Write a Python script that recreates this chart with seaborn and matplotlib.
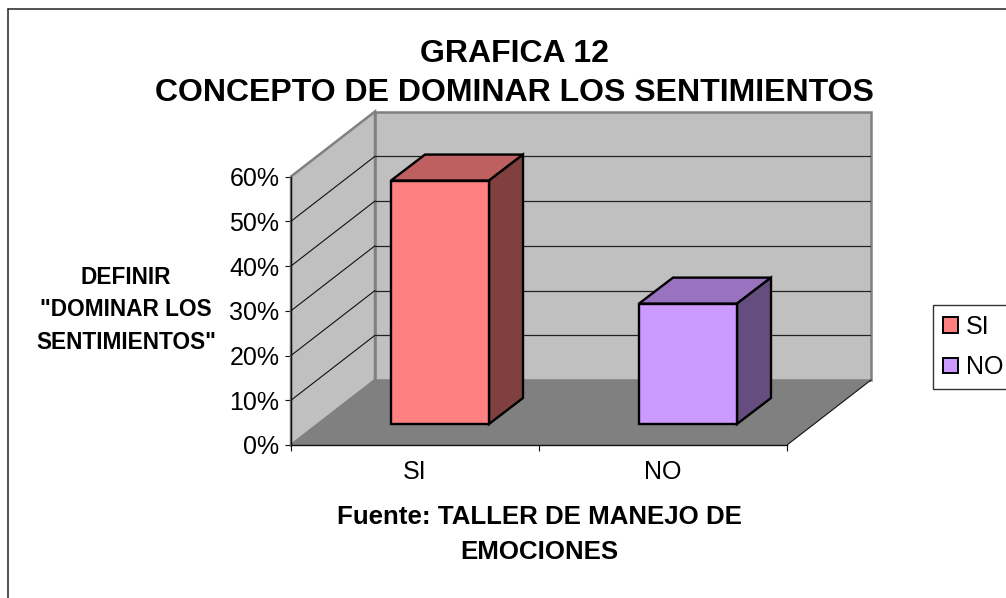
# plot.py - grafica 12, barras con falso 3D estilo Excel
import matplotlib
matplotlib.use("Agg")
import matplotlib.pyplot as plt
from matplotlib.lines import Line2D
from matplotlib.patches import Patch, Polygon, Rectangle
import pandas as pd
import seaborn as sns

categorias = ["SI", "NO"]
valores = [54.4, 26.9]
colores_frente = ["#FF8080", "#CC99FF"]
colores_tapa = ["#BF6060", "#9973BF"]
colores_lado = ["#804040", "#664D80"]
y_ticks = [0, 10, 20, 30, 40, 50, 60]

titulo = "GRAFICA 12\nCONCEPTO DE DOMINAR LOS SENTIMIENTOS"
etiqueta_y = 'DEFINIR\n"DOMINAR LOS\nSENTIMIENTOS"'
etiqueta_x = "Fuente: TALLER DE MANEJO DE\nEMOCIONES"

W, H = 1006, 598

# profundidad del "3D" en unidades de los ejes
PX_X = 248.0
PX_Y = 268.5 / 60
pared_dx, pared_dy = 84 / PX_X, 65 / PX_Y
barra_dx, barra_dy = 34 / PX_X, 26 / PX_Y
desplaza_x, eleva_y = 25 / PX_X, 21 / PX_Y

sns.set_style("ticks")
plt.rcParams["font.family"] = ["Liberation Sans", "DejaVu Sans"]
plt.rcParams["text.color"] = "black"
plt.rcParams["axes.labelcolor"] = "black"
plt.rcParams["xtick.labelcolor"] = "black"
plt.rcParams["ytick.labelcolor"] = "black"

fig = plt.figure(figsize=(W / 100, H / 100), dpi=100, facecolor="white")
ax = fig.add_axes([291 / W, (H - 445) / H, 496 / W, 268.5 / H])
ax.patch.set_visible(False)

df = pd.DataFrame({"respuesta": categorias, "valor": valores})
sns.barplot(data=df, x="respuesta", y="valor", hue="respuesta",
            palette=colores_frente, saturation=1, width=98 / PX_X, edgecolor="black",
            linewidth=1.7, legend=False, zorder=6, ax=ax)

x0, x1 = -0.5, 1.5
ax.set_xlim(x0, x1)
ax.set_ylim(0, 60)

# paredes y piso
gris_borde = "#808080"
ax.add_patch(Rectangle((x0 + pared_dx, pared_dy), x1 - x0, 60, fc="#C0C0C0", ec=gris_borde,
                       lw=1.8, clip_on=False, zorder=1))
ax.add_patch(Polygon([(x0, 0), (x0 + pared_dx, pared_dy), (x0 + pared_dx, 60 + pared_dy), (x0, 60)],
                     fc="#C0C0C0", ec=gris_borde, lw=1.8, clip_on=False, zorder=1))
ax.add_patch(Polygon([(x0, 0), (x1, 0), (x1 + pared_dx, pared_dy), (x0 + pared_dx, pared_dy)],
                     fc="#808080", ec="none", clip_on=False, zorder=2))
ax.plot([x1, x1 + pared_dx], [0, pared_dy], color="#111111", lw=0.8, clip_on=False, zorder=2)

# lineas de division en pared del fondo y lateral
for y in y_ticks[1:-1]:
    ax.plot([x0 + pared_dx, x1 + pared_dx - 0.006], [y + pared_dy, y + pared_dy],
            color="#222222", lw=0.9, clip_on=False, zorder=3)
    ax.plot([x0, x0 + pared_dx], [y, y + pared_dy], color="#111111", lw=0.8, clip_on=False, zorder=3)

# caras de cada barra a partir del rectangulo que dibuja seaborn
barras = [p for c in ax.containers for p in c]
for barra, tapa, lado in zip(barras, colores_tapa, colores_lado):
    barra.set_x(barra.get_x() + desplaza_x)
    barra.set_y(eleva_y)
    barra.set_clip_on(False)
    barra.set_joinstyle("miter")
    izq, der = barra.get_x(), barra.get_x() + barra.get_width()
    abajo, arriba = eleva_y, eleva_y + barra.get_height()
    ax.add_patch(Polygon([(izq, arriba), (der, arriba), (der + barra_dx, arriba + barra_dy),
                          (izq + barra_dx, arriba + barra_dy)],
                         fc=tapa, ec="black", lw=1.7, joinstyle="miter", clip_on=False, zorder=5))
    ax.add_patch(Polygon([(der, abajo), (der + barra_dx, abajo + barra_dy),
                          (der + barra_dx, arriba + barra_dy), (der, arriba)],
                         fc=lado, ec="black", lw=1.7, joinstyle="miter", clip_on=False, zorder=5))

# ejes
for lado_eje in ["top", "right"]:
    ax.spines[lado_eje].set_visible(False)
for lado_eje in ["left", "bottom"]:
    ax.spines[lado_eje].set_color("#111111")
    ax.spines[lado_eje].set_linewidth(1.0)
    ax.spines[lado_eje].set_zorder(4)
ax.set_yticks(y_ticks)
ax.set_yticklabels([f"{v}%" for v in y_ticks])
ax.tick_params(axis="y", length=4.3, width=0.8, pad=4, labelsize=18, color="#111111")
ax.set_xticks([0, 1])
ax.set_xticklabels(categorias)
ax.set_xticks([-0.5, 0.5, 1.5], minor=True)
ax.tick_params(axis="x", which="major", length=0, pad=11, labelsize=18)
ax.tick_params(axis="x", which="minor", length=4.3, width=0.8, color="#111111")

ax.set_xlabel(etiqueta_x, fontsize=18.6, fontweight="bold", linespacing=1.58, labelpad=15)
ax.set_ylabel(etiqueta_y, fontsize=16.3, fontweight="bold", rotation=0, ha="center", va="center",
              linespacing=1.55)
ax.yaxis.set_label_coords((126 - 291) / 496, (445 - 310) / 268.5)

fig.text(514 / W, 1 - 73.5 / H, titulo, fontsize=23, fontweight="bold", ha="center", va="center",
         linespacing=1.42)

# leyenda, se sale por la derecha igual que el original
manijas = [Patch(fc=c, ec="black", lw=1.4) for c in colores_frente]
fig.legend(manijas, categorias, loc="upper left", bbox_to_anchor=(933 / W, 1 - 305 / H),
           fontsize=18, frameon=True, fancybox=False, edgecolor="#333333", framealpha=1,
           borderaxespad=0, handlelength=0.6, handleheight=0.6, handletextpad=0.32,
           labelspacing=0.65, borderpad=0.4)

# marco del grafico, solo se ve arriba y a la izquierda
fig.add_artist(Line2D([7.5 / W, 7.5 / W], [0, 1 - 9 / H], color="#222222", lw=1.1))
fig.add_artist(Line2D([7.5 / W, 1], [1 - 9 / H, 1 - 9 / H], color="#222222", lw=1.1))

fig.savefig("out.png", dpi=100)
